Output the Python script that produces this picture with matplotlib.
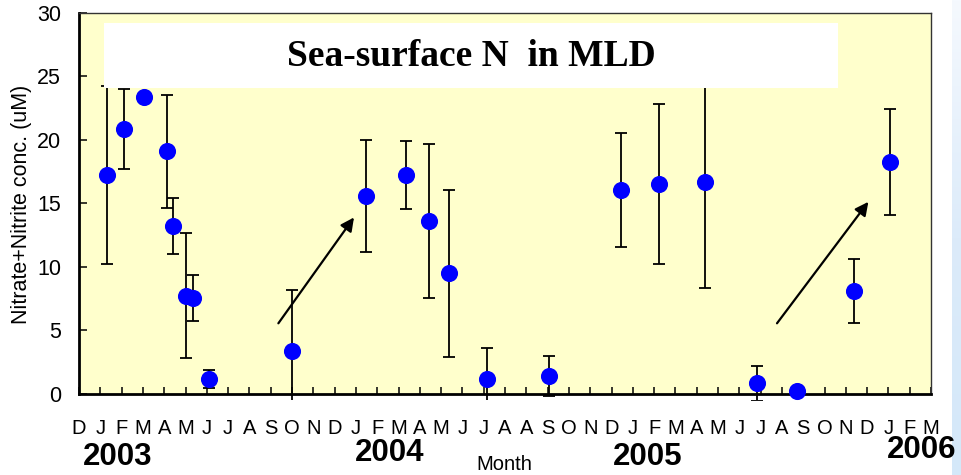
import matplotlib
matplotlib.use('Agg')
import matplotlib.pyplot as plt
import numpy as np
from matplotlib.patches import Rectangle
from matplotlib import transforms
from matplotlib.colors import LinearSegmentedColormap

plt.rcParams['font.family'] = ['Liberation Sans', 'DejaVu Sans']

# ---- data (x in months from the left edge of the axis) ----
sample_month = [1.33, 2.10, 3.07, 4.15, 4.40, 5.01, 5.34, 6.09, 10.0, 13.46, 15.35,
                16.42, 17.39, 19.14, 22.08, 25.45, 27.21, 29.39, 31.84, 33.72, 36.40, 38.09]
nitrate = [17.2, 20.83, 23.37, 19.09, 13.21, 7.70, 7.54, 1.12, 3.37, 15.58, 17.2,
           13.58, 9.46, 1.14, 1.38, 16.02, 16.5, 16.63, 0.80, 0.17, 8.07, 18.25]
nitrate_err = [7.0, 3.15, 0.0, 4.45, 2.22, 4.92, 1.8, 0.72, 4.78, 4.4, 2.7,
               6.04, 6.6, 2.42, 1.6, 4.5, 6.3, 8.35, 1.37, 0.0, 2.53, 4.16]
month_labels = "D J F M A M J J A S O N D J F M A M J J A A S O N D J F M A M J J A S O N D J F M".split()
year_labels = ['2003', '2004', '2005', '2006']
y_ticks = [0, 5, 10, 15, 20, 25, 30]
arrow_start = [(9.36, 5.53), (32.77, 5.53)]
arrow_end = [(12.91, 13.87), (37.06, 15.1)]
title_text = 'Sea-surface N  in MLD'
ylabel_text = 'Nitrate+Nitrite conc. (uM)'
xlabel_text = 'Month'

W, H = 962, 475
fig = plt.figure(figsize=(W / 100, H / 100), dpi=100)

# light blue strip at right edge
sax = fig.add_axes([952 / W, 0, 10 / W, 1])
grad = np.linspace(0, 1, 200).reshape(-1, 1)
cmap = LinearSegmentedColormap.from_list('s', ['#D4E8F9', '#DCEBFA', '#F5F9FE'])
sax.imshow(grad, aspect='auto', cmap=cmap, origin='lower', extent=[0, 1, 0, 1])
sax.axis('off')

ax = fig.add_axes([79 / W, 1 - 393.5 / H, 852 / W, 380.8 / H])
ax.set_facecolor('#FFFFCC')
ax.set_xlim(0, 40)
ax.set_ylim(0, 30)

eb = ax.errorbar(sample_month, nitrate, yerr=nitrate_err, fmt='none', ecolor='black',
                 elinewidth=1.3, capsize=4.2, capthick=1.3, zorder=3)
clip_rect = Rectangle((0, -0.5), 40, 31, transform=ax.transData)
for art in list(eb.lines[1]) + list(eb.lines[2]):
    art.set_clip_path(clip_rect)

ax.plot(sample_month, nitrate, 'o', color='#0000FF', ms=11.3, zorder=4, clip_on=False)

for s, e in zip(arrow_start, arrow_end):
    ax.annotate('', xy=e, xytext=s,
                arrowprops=dict(arrowstyle='-|>', color='black', lw=1.6,
                                mutation_scale=20, shrinkA=0, shrinkB=0), zorder=3)

# title box
ax.add_patch(Rectangle((1.17, 24.06), 34.46, 5.11, facecolor='white', edgecolor='none', zorder=5))
ax.text((1.17 + 35.63) / 2, 26.55, title_text, ha='center', va='center', zorder=6,
        fontsize=27, fontweight='bold', family=['Liberation Serif', 'DejaVu Serif'])

ax.set_xticks(range(len(month_labels)))
ax.set_xticklabels(month_labels)
ax.set_yticks(y_ticks)
ax.tick_params(axis='x', direction='in', length=5, width=1.1, pad=18, labelsize=14.5)
ax.tick_params(axis='y', direction='in', length=5.5, width=1.1, pad=13, labelsize=15.5)

for side in ['left', 'bottom']:
    ax.spines[side].set_linewidth(2.0)
    ax.spines[side].set_color('black')
for side in ['top', 'right']:
    ax.spines[side].set_linewidth(1.0)
    ax.spines[side].set_color('#333333')

fig.text(22 / W, 1 - 204 / H, ylabel_text, rotation=90, ha='center', va='center', fontsize=15.5)
fig.text(504.5 / W, 1 - 464 / H, xlabel_text, ha='center', va='center', fontsize=14.5)

trans = transforms.blended_transform_factory(ax.transData, fig.transFigure)
year_x = [1.81, 14.6, 26.69, 39.58]
year_y = [1 - 457 / H, 1 - 453 / H, 1 - 457 / H, 1 - 450 / H]
for lab, xx, yy in zip(year_labels, year_x, year_y):
    fig.text(xx, yy, lab, transform=trans, ha='center', va='center', fontsize=22.5, fontweight='bold')

fig.savefig('out.png', dpi=100)
